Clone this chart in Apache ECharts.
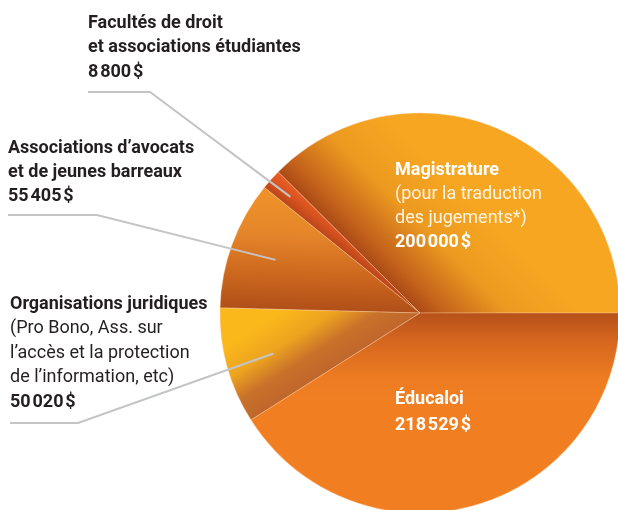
<!DOCTYPE html>
<html><head><meta charset="utf-8">
<script src="https://cdn.jsdelivr.net/npm/echarts@6/dist/echarts.min.js"></script>
<style>html,body{margin:0;padding:0;background:#fff}#c{width:618px;height:510px}</style>
</head><body><div id="c"></div>
<script>
// ---- data ----
const categories = ['Magistrature', 'Facultés de droit et associations étudiantes', 'Associations d’avocats et de jeunes barreaux', 'Organisations juridiques', 'Éducaloi'];
const values = [200000, 8800, 55405, 50020, 218529];
const titleLines = [['Magistrature'], ['Facultés de droit', 'et associations étudiantes'], ['Associations d’avocats', 'et de jeunes barreaux'], ['Organisations juridiques'], ['Éducaloi']];
const noteLines = [['(pour la traduction', 'des jugements*)'], [], [], ['(Pro Bono, Ass. sur', 'l’accès et la protection', 'de l’information, etc)'], []];

// ---- style / layout ----
const FONT = "Roboto, sans-serif";
const FS = 18;
const CX = 420, CY = 313, R = 200;
const inside = [true, false, false, false, true];
const lineH = [24, 24.5, 24, 24.5, 26];
const labelPos = [[395, 158], [88, 11], [8, 136], [10, 292], [395, 386]];
const elbows = [null, [[150, 92], [88, 92]], [[97, 215], [8, 215]], [[78, 423], [10, 423]], null];
const anchorR = [0, 0.87, 0.77, 0.76, 0];
const shade = [
  {L: 115, stops: ['#a94a17', '#c3611b', '#ec9a20', '#f6a620'], at: [0, 0.15, 0.55, 1]},
  {L: 25, stops: ['#b9461a', '#d9531f', '#e95e24', '#e95e24'], at: [0, 0.4, 0.8, 1]},
  {L: 125, stops: ['#b04f19', '#c9651d', '#e5852a', '#f09428'], at: [0, 0.25, 0.6, 1]},
  {L: 75, stops: ['#bf672c', '#c8712a', '#eca31f', '#fbb81b'], at: [0, 0.3, 0.62, 1]},
  {L: 90, stops: ['#b7511a', '#d4661e', '#ec7b22', '#f17f22'], at: [0, 0.3, 0.7, 1]}
];

const total = values.reduce((a, b) => a + b, 0);
let acc = 0;
const ends = [], mids = [];
values.forEach(v => { const a0 = acc; acc += v / total * 360; ends.push(acc); mids.push((a0 + acc) / 2); });
const rad = d => d * Math.PI / 180;
function anchor(i) {
  const a = rad(mids[i]);
  return [CX + anchorR[i] * R * Math.cos(a), CY - anchorR[i] * R * Math.sin(a)];
}
function fmt(v) { return String(v).replace(/\B(?=(\d{3})+(?!\d))/g, '\u200A') + '\u200A$'; }
function gradient(i) {
  const d = rad(ends[i] - 90), s = shade[i];
  return {
    type: 'linear', global: true,
    x: CX, y: CY, x2: CX + s.L * Math.cos(d), y2: CY - s.L * Math.sin(d),
    colorStops: s.stops.map((c, k) => ({offset: s.at[k], color: c}))
  };
}

function richFor(lh) {
  return {
    b: {fontFamily: FONT, fontWeight: 'bold', fontSize: FS, lineHeight: lh, color: '#231f20'},
    n: {fontFamily: FONT, fontWeight: 'normal', fontSize: FS, lineHeight: lh, color: '#231f20'},
    bw: {fontFamily: FONT, fontWeight: 'bold', fontSize: FS, lineHeight: lh, color: '#ffffff'},
    nw: {fontFamily: FONT, fontWeight: 'normal', fontSize: FS, lineHeight: lh, color: '#fff3e0'}
  };
}

const data = categories.map((name, i) => ({
  name, value: values[i],
  itemStyle: {color: gradient(i)},
  label: {rich: richFor(lineH[i])}
}));

const leaders = [];
categories.forEach((_, i) => {
  if (!elbows[i]) return;
  leaders.push({
    type: 'polyline', z: 100, silent: true,
    shape: {points: [anchor(i), elbows[i][0], elbows[i][1]]},
    style: {stroke: '#c3c4c6', lineWidth: 2, fill: null}
  });
});

const chart = echarts.init(document.getElementById('c'), null, {renderer: 'canvas'});
chart.setOption({
  animation: false,
  graphic: leaders,
  series: [{
    type: 'pie', center: [CX, CY], radius: R,
    startAngle: 0, clockwise: false, avoidLabelOverlap: false,
    itemStyle: {borderColor: 'rgba(255,205,160,0.55)', borderWidth: 0.7},
    label: {
      show: true, position: 'inside',
      formatter: p => {
        const i = p.dataIndex, w = inside[i] ? 'w' : '';
        const out = [];
        titleLines[i].forEach(t => out.push('{b' + w + '|' + t + '}'));
        noteLines[i].forEach(t => out.push('{n' + w + '|' + t + '}'));
        out.push('{b' + w + '|' + fmt(values[i]) + '}');
        return out.join('\n');
      },
      rich: richFor(24.5)
    },
    labelLine: {show: false},
    labelLayout: p => {
      const i = p.dataIndex;
      return {x: labelPos[i][0], y: labelPos[i][1], align: 'left', verticalAlign: 'top'};
    },
    data
  }]
});
</script></body></html>
